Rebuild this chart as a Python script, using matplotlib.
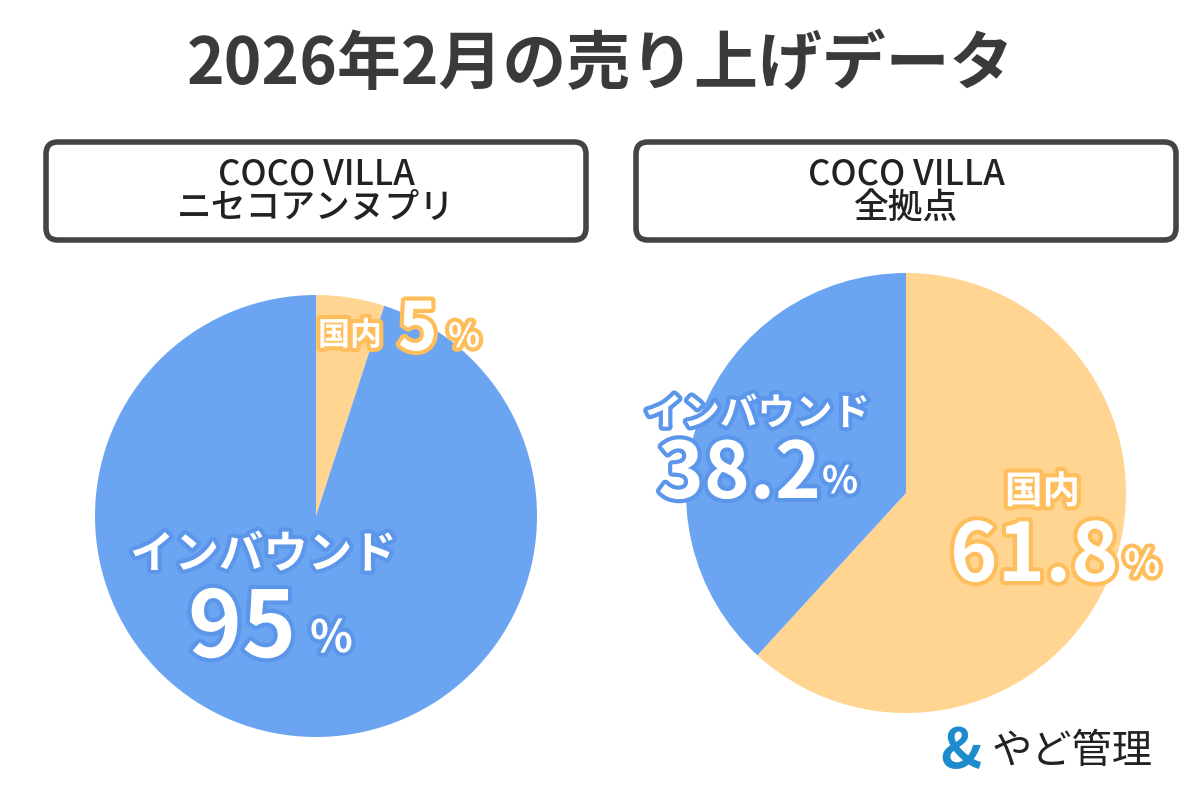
import matplotlib.pyplot as plt
import matplotlib.patheffects as pe
from matplotlib.patches import FancyBboxPatch

plt.rcParams['font.family'] = ['Noto Sans CJK JP', 'DejaVu Sans']

title = "2026年2月の売り上げデータ"
left_title = "COCO VILLA\nニセコアンヌプリ"
right_title = "COCO VILLA\n全拠点"
labels = ["国内", "インバウンド"]
left_values = [5, 95]
right_values = [61.8, 38.2]

orange = "#FFD591"
orange_edge = "#FFBE5C"
blue = "#6BA5F2"
blue_edge = "#5B96EA"
dark = "#3A3A3A"

fig = plt.figure(figsize=(12, 8), dpi=100)
ax = fig.add_axes([0, 0, 1, 1])

ax.text(600, 735, title, ha="center", va="center", fontsize=46,
        fontweight="bold", color=dark)

# header boxes
for x0, txt in [(46, left_title), (636, right_title)]:
    box = FancyBboxPatch((x0, 560), 540, 98, boxstyle="round,pad=0,rounding_size=12",
                         fc="white", ec="#444444", lw=4)
    ax.add_patch(box)
    ax.text(x0 + 270, 609, txt, ha="center", va="center", fontsize=25,
            color="#222222", linespacing=0.9, fontweight="medium")

# pies
ax.pie(left_values, colors=[orange, blue], startangle=90, counterclock=False,
       center=(316, 284), radius=221, frame=True)
ax.pie(right_values, colors=[orange, blue], startangle=90, counterclock=False,
       center=(906, 307), radius=220, frame=True)
ax.set_xlim(0, 1200)
ax.set_ylim(0, 800)
ax.set_aspect("equal")
ax.axis("off")

def label(x, y, s, size, edge):
    ax.text(x, y, s, ha="left", va="baseline", fontsize=size, color="white",
            fontweight="bold",
            path_effects=[pe.withStroke(linewidth=6, foreground=edge)])

# left pie labels
label(318, 455, labels[0], 23, orange_edge)
label(398, 450, f"{left_values[0]}", 48, orange_edge)
label(448, 453, "%", 24, orange_edge)
label(130, 232, labels[1], 32, blue_edge)
label(188, 143, f"{left_values[1]}", 66, blue_edge)
label(310, 148, "%", 32, blue_edge)

# right pie labels
label(645, 375, labels[1], 27, blue_edge)
label(658, 302, f"{right_values[1]}", 56, blue_edge)
label(822, 307, "%", 27, blue_edge)
label(1005, 297, labels[0], 27, orange_edge)
label(950, 219, f"{right_values[0]}", 58, orange_edge)
label(1124, 224, "%", 27, orange_edge)

# logo
ax.text(940, 48, "&", ha="left", va="center", fontsize=40, fontweight="bold",
        color="#1E8BCD")
ax.text(992, 48, "やど管理", ha="left", va="center", fontsize=29, color="#222222")

fig.savefig("out.png", dpi=100)
